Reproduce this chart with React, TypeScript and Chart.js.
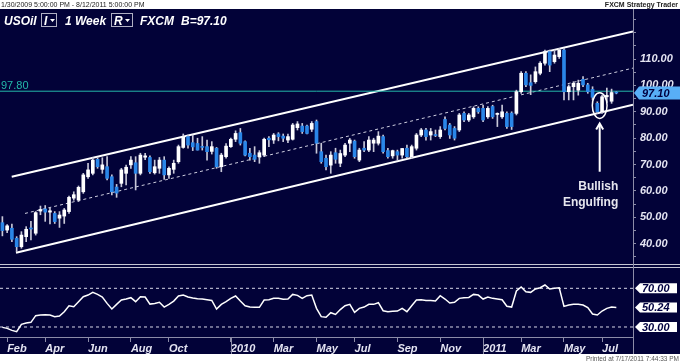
import React, { useEffect, useRef } from 'react';
import { Chart, registerables } from 'chart.js';

Chart.register(...registerables);

const W = 680;
const H = 363;
const NAVY = '#020238';
const AXIS_TEXT = '#e4e4f2';
const AXIS_LINE = '#8c8ca8';
const UP = '#ffffff';
const DOWN = '#2a86e8';
const WICK = '#c8c8d8';
const TEAL = '#24b8aa';
const FONT = '"Liberation Sans", Arial, sans-serif';

// Weekly bars, 1/30/2009 .. 7/22/2011 (index = week number)
const openP = [48.0,45.2,45.9,42.1,38.9,42.7,46.0,44.0,52.4,53.2, 52.0,51.5,49.7,50.5,52.2,57.3,56.6,59.7,65.4,66.7, 72.0,68.2,69.2,65.4,61.5,62.9,66.7,69.9,70.7,66.7, 72.8,72.7,66.9,68.6,71.7,66.1,68.2,71.1,76.5,80.6, 78.3,78.0,76.9,76.8,75.0,76.2,69.2,73.0,76.8,79.6, 82.1,78.7,74.3,73.6,73.0,73.6,80.0,79.3,81.6,80.8, 79.3,79.6,84.0,84.6,84.6,83.4,86.3,74.9,72.4,69.8, 74.5,70.5,73.6,78.1,78.9,71.7,76.2,75.5,78.1,78.1, 80.6,75.3,73.3,74.9,73.6,76.2,73.0,76.2,81.2,83.1, 81.2,81.2,80.6,87.1,85.0,83.7,83.1,89.4,86.9,88.1, 91.3,91.3,88.1,92.0,89.0,88.1,89.4,89.5,89.4,97.6, 104.6,101.0,101.4,104.6,108.4,112.8,109.0,110.9,113.4,97.6, 99.5,98.2,102.3,100.2,98.5,93.2,90.0,95.7,94.0,97.3];
const highP = [50.3,47.3,47.5,42.7,44.6,46.5,48.5,52.2,54.3,54.5, 53.5,52.2,52.2,53.4,58.1,59.7,61.9,66.7,70.5,72.6, 72.6,72.6,73.0,66.1,62.5,68.6,69.8,73.0,73.0,74.3, 74.3,73.3,71.7,72.7,73.0,69.2,71.7,77.4,81.6,81.2, 81.2,80.0,80.6,79.3,78.7,76.5,74.3,78.0,80.0,82.8, 83.7,79.0,76.2,76.8,75.3,80.0,80.6,81.8,82.1,81.6, 81.6,85.6,86.3,85.6,85.0,86.3,86.9,78.1,73.6,74.9, 76.2,75.5,78.1,79.9,79.3,76.2,78.7,80.6,80.0,82.5, 81.2,76.2,75.5,75.5,76.2,77.4,77.4,81.8,83.7,83.7, 83.7,83.1,84.4,88.1,85.6,84.4,89.4,90.0,89.4,91.9, 91.9,92.5,92.0,92.5,89.6,92.5,90.0,90.0,98.2,105.2, 105.2,104.0,107.0,109.0,113.4,113.4,113.4,114.0,114.0,100.2, 101.4,102.0,103.3,100.8,99.5,93.8,96.3,99.0,98.6,97.6];
const lowP = [43.0,44.2,40.8,37.0,38.3,40.8,41.5,43.3,51.0,48.5, 47.5,47.7,46.2,47.7,51.5,56.5,56.0,59.1,64.8,66.1, 68.6,66.7,64.2,58.5,57.6,61.6,62.3,68.6,60.4,66.1, 71.9,66.7,66.4,66.7,64.4,64.8,66.7,70.5,76.2,76.2, 75.3,75.5,75.5,71.7,74.0,68.6,67.3,72.4,76.5,78.7, 77.4,73.3,71.7,71.1,70.5,73.0,76.8,78.0,79.0,78.7, 78.3,79.3,83.1,81.8,81.6,82.5,74.3,70.5,68.0,66.7, 70.5,69.2,73.0,74.9,72.4,71.1,74.9,74.9,74.9,77.4, 74.3,72.4,72.4,71.7,72.4,72.4,72.4,75.5,80.6,79.3, 79.3,80.6,79.9,83.1,79.9,79.3,82.5,86.3,86.3,87.5, 89.4,86.3,87.5,87.5,84.4,87.5,83.7,83.3,88.8,97.0, 99.5,96.5,100.8,104.0,107.7,105.2,108.4,110.2,94.5,94.5, 94.5,96.3,99.5,97.0,94.5,89.4,89.4,93.5,93.2,96.8];
const closeP = [45.0,46.8,41.7,38.9,43.3,45.5,45.6,51.8,53.0,52.0, 52.5,48.4,50.9,52.8,57.6,58.6,61.4,66.1,68.0,71.7, 69.2,69.9,64.8,59.7,59.2,68.0,69.0,71.7,66.7,73.6, 73.3,67.3,69.2,71.7,66.1,68.6,70.5,76.8,80.6,77.4, 76.7,75.5,76.5,74.9,76.8,69.2,73.6,77.0,79.6,81.8, 78.1,73.6,73.0,72.0,74.5,79.6,79.4,81.2,80.6,80.0, 80.6,85.0,85.4,82.5,81.8,85.6,78.1,71.1,69.2,73.6, 72.0,74.2,77.4,79.3,73.0,75.5,75.5,79.3,79.3,80.8, 74.9,73.0,75.3,73.6,76.1,73.0,76.8,81.2,83.1,80.6, 82.5,81.0,83.1,83.7,81.2,80.0,88.8,86.9,88.8,91.3, 90.0,86.9,91.3,88.1,89.4,90.0,84.4,84.4,97.6,104.6, 100.2,100.0,105.2,108.4,112.8,107.7,111.5,113.4,97.6,99.5, 100.8,100.8,100.2,97.6,95.5,90.0,95.7,96.2,97.3,97.1];

// RSI (lower panel)
const rsi = [29.6,28.6,26.5,25.1,32.7,34.1,34.8,41.7,42.4,42.7, 42.4,40.7,41.3,45.8,52.0,51.0,56.2,61.3,63.0,65.8, 63.7,61.0,54.4,48.6,53.4,57.9,58.9,60.3,56.2,61.3, 61.0,53.7,54.4,55.5,50.6,53.4,56.8,62.0,63.0,61.0, 60.0,59.3,58.9,58.2,57.5,48.6,53.4,56.2,59.6,62.0, 56.8,52.0,50.6,50.3,50.3,57.9,58.2,59.6,59.6,58.6, 58.9,63.7,62.7,59.6,62.4,63.0,49.3,40.7,40.0,44.8, 43.0,48.0,52.0,53.4,45.1,49.3,50.6,53.4,53.4,55.1, 46.8,45.8,46.2,46.5,49.3,45.8,52.0,57.9,58.2,57.5, 57.5,56.8,62.4,58.9,54.8,55.5,59.6,60.3,60.6,63.7, 63.0,58.9,61.0,59.6,58.9,58.2,51.5,50.6,67.2,71.3, 66.5,65.8,69.3,70.6,73.4,69.3,70.0,70.6,51.3,52.7, 53.4,53.4,52.7,50.0,43.4,42.4,46.5,49.3,50.6,50.24];

// x axis: week index of first bar of each labelled month
const tickIndex = [1, 9, 18, 27, 35, 48, 57, 66, 74, 83, 92, 101, 109, 118, 126];
const tickLabels = ['Feb', 'Apr', 'Jun', 'Aug', 'Oct', '2010', 'Mar', 'May', 'Jul', 'Sep', 'Nov', '2011', 'Mar', 'May', 'Jul'];
const yearTicks = [48, 101];

// price axis ticks (minor every 5, labelled every 10)
const priceTicks = [35, 40, 45, 50, 55, 60, 65, 70, 75, 80, 85, 90, 95, 100, 105, 110, 115, 120, 125];
const priceLabelled = [40, 50, 60, 70, 80, 90, 100, 110];

// RSI axis labels
const rsiLevels = [70, 30];
const rsiLast = 50.24;

// drawn lines (week index, price)
const channelUpper = [[1.96, 65.4], [132.5, 120.45]];
const channelLower = [[2.86, 36.6], [132.5, 92.67]];
const channelMid = [[4.75, 51.5], [132.5, 106.56]];
const hLineLevel = 97.8;
const lastPrice = 97.1;

// annotation (week index / price)
const engulfIdx = 125.5;
const ellipseRange = [87.5, 97.2];
const ellipseHalfWeeks = 1.55;
const arrowRange = [85.6, 67.3];
const noteIdx = 129.4;
const noteLines = [['Bullish', 60.2], ['Engulfing', 54.5]];

const N_SLOTS = 133;

function arrowBox(ctx: CanvasRenderingContext2D, x0: number, x1: number, yc: number, h: number, fill: string) {
  ctx.beginPath();
  ctx.moveTo(x0, yc);
  ctx.lineTo(x0 + 5, yc - h / 2);
  ctx.lineTo(x1, yc - h / 2);
  ctx.lineTo(x1, yc + h / 2);
  ctx.lineTo(x0 + 5, yc + h / 2);
  ctx.closePath();
  ctx.fillStyle = fill;
  ctx.fill();
}

const decor = {
  id: 'decor',
  beforeDraw(chart: any) {
    const { ctx } = chart;
    ctx.save();
    ctx.fillStyle = '#ffffff';
    ctx.fillRect(0, 0, W, H);
    ctx.fillStyle = NAVY;
    ctx.fillRect(0, 9, W, 345);
    ctx.restore();
  },
  afterDraw(chart: any) {
    const { ctx, scales } = chart;
    const xs = scales.x;
    const ys = scales.y;
    const y2 = scales.y2;
    ctx.save();

    // panel separators
    ctx.fillStyle = '#c4c4d2';
    ctx.fillRect(0, 264, W, 1);
    ctx.fillRect(0, 267, W, 1);
    ctx.fillStyle = AXIS_LINE;
    ctx.fillRect(633, 9, 1, 345);
    yearTicks.forEach((t) => {
      const px = Math.round(xs.getPixelForValue(t));
      ctx.fillRect(px, 337, 1, 17);
    });

    // horizontal level label
    const hy = ys.getPixelForValue(hLineLevel);
    ctx.font = `11px ${FONT}`;
    ctx.fillStyle = TEAL;
    ctx.textAlign = 'left';
    ctx.textBaseline = 'alphabetic';
    ctx.fillText(hLineLevel.toFixed(2), 1, hy - 2.5);

    // last price box
    const ly = ys.getPixelForValue(lastPrice);
    arrowBox(ctx, 634, 680, ly, 13, '#58aef6');
    ctx.font = `italic bold 11px ${FONT}`;
    ctx.fillStyle = '#000040';
    ctx.textBaseline = 'middle';
    ctx.fillText(lastPrice.toFixed(2), 642, ly + 0.5);

    // RSI boxes
    [...rsiLevels, rsiLast].forEach((v) => {
      const py = y2.getPixelForValue(v);
      arrowBox(ctx, 635, 677, py, 10, '#ffffff');
      ctx.fillStyle = '#000040';
      ctx.fillText(v.toFixed(2), 642, py + 0.5);
    });

    // annotation: ellipse, arrow, text
    const cx = xs.getPixelForValue(engulfIdx);
    const yTop = ys.getPixelForValue(ellipseRange[1]);
    const yBot = ys.getPixelForValue(ellipseRange[0]);
    const rx = xs.getPixelForValue(engulfIdx + ellipseHalfWeeks) - cx;
    ctx.strokeStyle = '#ffffff';
    ctx.lineWidth = 1.5;
    ctx.beginPath();
    ctx.ellipse(cx, (yTop + yBot) / 2, rx, (yBot - yTop) / 2, 0, 0, Math.PI * 2);
    ctx.stroke();

    const aTip = ys.getPixelForValue(arrowRange[0]);
    const aEnd = ys.getPixelForValue(arrowRange[1]);
    ctx.lineWidth = 2;
    ctx.beginPath();
    ctx.moveTo(cx, aTip + 1);
    ctx.lineTo(cx, aEnd);
    ctx.stroke();
    ctx.beginPath();
    ctx.moveTo(cx - 3.5, aTip + 6);
    ctx.lineTo(cx, aTip);
    ctx.lineTo(cx + 3.5, aTip + 6);
    ctx.stroke();

    ctx.font = `bold 12px ${FONT}`;
    ctx.fillStyle = '#e6e6ee';
    ctx.textAlign = 'right';
    ctx.textBaseline = 'alphabetic';
    const nx = xs.getPixelForValue(noteIdx);
    noteLines.forEach(([t, v]) => {
      ctx.fillText(t as string, nx, ys.getPixelForValue(v as number));
    });

    // header
    ctx.textAlign = 'left';
    ctx.font = `italic bold 12px ${FONT}`;
    ctx.fillStyle = '#ffffff';
    ctx.fillText('USOil', 4, 25);
    ctx.fillText('1 Week', 65, 25);
    ctx.fillText('FXCM', 140, 25);
    ctx.fillText('B=97.10', 181, 25);
    ctx.strokeStyle = '#b0b0c4';
    ctx.lineWidth = 1;
    ctx.strokeRect(41.5, 13.5, 15, 13);
    ctx.strokeRect(111.5, 13.5, 21, 13);
    ctx.fillText('I', 44, 25);
    ctx.fillText('R', 114, 25);
    ctx.beginPath();
    ctx.moveTo(50, 19); ctx.lineTo(55, 19); ctx.lineTo(52.5, 22); ctx.closePath();
    ctx.moveTo(125, 19); ctx.lineTo(130, 19); ctx.lineTo(127.5, 22); ctx.closePath();
    ctx.fill();

    // outer strip texts
    ctx.fillStyle = '#222222';
    ctx.font = `7px ${FONT}`;
    ctx.fillText('1/30/2009 5:00:00 PM - 8/12/2011 5:00:00 PM', 1, 7);
    ctx.font = `bold 7px ${FONT}`;
    ctx.textAlign = 'right';
    ctx.fillText('FXCM Strategy Trader', 678, 7);
    ctx.font = `6.5px ${FONT}`;
    ctx.fillStyle = '#555555';
    ctx.fillText('Printed at 7/17/2011 7:44:33 PM', 679, 361);
    ctx.restore();
  },
};

export default function App() {
  const ref = useRef<HTMLCanvasElement>(null);

  useEffect(() => {
    const canvas = ref.current;
    if (!canvas) return;
    const idx = closeP.map((_, i) => i);
    const bodyColors = closeP.map((c, i) => (c >= openP[i] ? UP : DOWN));
    const fullSpan = [-0.5, N_SLOTS - 0.5];

    const chart = new Chart(canvas, {
      type: 'bar',
      data: {
        datasets: [
          {
            type: 'line', label: 'upper', yAxisID: 'y',
            data: channelUpper.map(([x, y]) => ({ x, y })),
            borderColor: '#ffffff', borderWidth: 2, pointRadius: 0, order: 5,
          },
          {
            type: 'line', label: 'lower', yAxisID: 'y',
            data: channelLower.map(([x, y]) => ({ x, y })),
            borderColor: '#ffffff', borderWidth: 2, pointRadius: 0, order: 5,
          },
          {
            type: 'line', label: 'mid', yAxisID: 'y',
            data: channelMid.map(([x, y]) => ({ x, y })),
            borderColor: '#cfcfe0', borderWidth: 1, borderDash: [3, 3], pointRadius: 0, order: 5,
          },
          {
            type: 'line', label: 'level', yAxisID: 'y',
            data: fullSpan.map((x) => ({ x, y: hLineLevel })),
            borderColor: TEAL, borderWidth: 1, pointRadius: 0, order: 4,
          },
          {
            type: 'bar', label: 'wick', yAxisID: 'y',
            data: idx.map((i) => ({ x: i, y: [lowP[i], highP[i]] })),
            backgroundColor: WICK, barThickness: 1, grouped: false, order: 3,
          },
          {
            type: 'bar', label: 'body', yAxisID: 'y',
            data: idx.map((i) => ({ x: i, y: [openP[i], closeP[i]] })),
            backgroundColor: bodyColors, barThickness: 3, minBarLength: 1, grouped: false, order: 2,
          },
          ...rsiLevels.map((lv) => ({
            type: 'line' as const, label: 'rsi' + lv, yAxisID: 'y2',
            data: fullSpan.map((x) => ({ x, y: lv })),
            borderColor: '#d8d8e8', borderWidth: 1, borderDash: [3, 3], pointRadius: 0, order: 1,
          })),
          {
            type: 'line', label: 'RSI', yAxisID: 'y2',
            data: idx.map((i) => ({ x: i, y: rsi[i] })),
            borderColor: '#ffffff', borderWidth: 1.5, pointRadius: 0, order: 0,
          },
        ] as any,
      },
      options: {
        responsive: false,
        animation: false,
        events: [],
        layout: { padding: { top: 9, left: 0, right: 0, bottom: 0 } },
        plugins: { legend: { display: false }, tooltip: { enabled: false } },
        scales: {
          x: {
            type: 'linear',
            min: -0.5,
            max: N_SLOTS - 0.5,
            offset: false,
            afterBuildTicks: (s: any) => { s.ticks = tickIndex.map((v) => ({ value: v })); },
            afterFit: (s: any) => { s.height = 26; s.paddingLeft = 0; s.paddingRight = 0; },
            ticks: {
              autoSkip: false, maxRotation: 0, minRotation: 0, align: 'start', padding: 0,
              color: AXIS_TEXT,
              font: { family: FONT, size: 11, style: 'italic', weight: 'bold' },
              callback: (_v: any, i: number) => tickLabels[i],
            },
            grid: { display: true, drawOnChartArea: false, drawTicks: true, tickLength: 5, color: AXIS_LINE, offset: false },
            border: { display: true, color: AXIS_LINE },
          },
          y: {
            type: 'linear',
            position: 'right',
            stack: 'panels',
            stackWeight: 257,
            min: 31.59,
            max: 128.94,
            afterBuildTicks: (s: any) => { s.ticks = priceTicks.map((v) => ({ value: v })); },
            afterFit: (s: any) => { s.width = 47; s.paddingTop = 0; s.paddingBottom = 0; },
            ticks: {
              autoSkip: false,
              padding: 4,
              color: AXIS_TEXT,
              font: { family: FONT, size: 11, style: 'italic', weight: 'bold' },
              callback: (v: any) => (priceLabelled.includes(v) ? Number(v).toFixed(2) : ''),
            },
            grid: { display: true, drawOnChartArea: false, drawTicks: true, tickLength: 3, color: AXIS_LINE },
            border: { display: false },
          },
          y2: {
            type: 'linear',
            position: 'right',
            stack: 'panels',
            stackWeight: 71,
            min: 19.66,
            max: 93.05,
            afterFit: (s: any) => { s.width = 47; s.paddingTop = 0; s.paddingBottom = 0; },
            ticks: { display: false },
            grid: { display: false },
            border: { display: false },
          },
        },
      } as any,
      plugins: [decor],
    });
    return () => chart.destroy();
  }, []);

  return (
    <div style={{ position: 'absolute', left: 0, top: 0, width: W, height: H }}>
      <canvas ref={ref} width={W} height={H} style={{ display: 'block', width: W, height: H }} />
    </div>
  );
}
